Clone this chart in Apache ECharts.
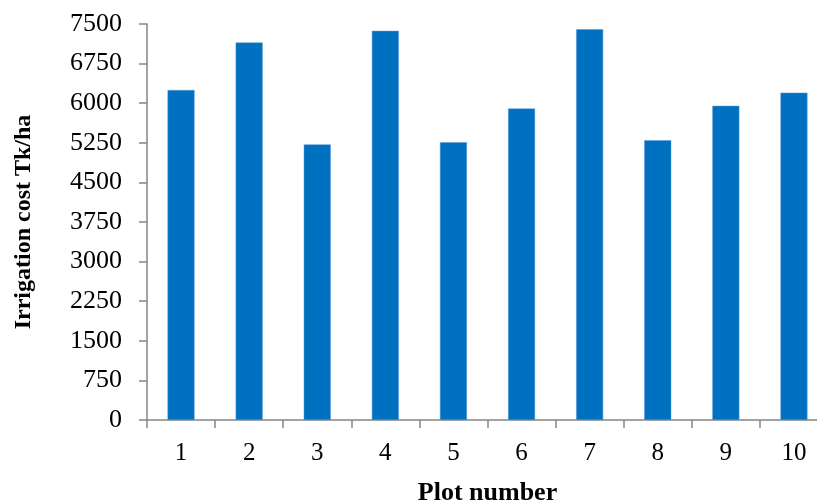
<!DOCTYPE html>
<html>
<head>
<meta charset="utf-8">
<script src="https://cdn.jsdelivr.net/npm/echarts@6/dist/echarts.min.js"></script>
<style>
html,body{margin:0;padding:0;background:#fff;}
#chart{width:817px;height:503px;}
</style>
</head>
<body>
<div id="chart"></div>
<script>
const categories = ['1','2','3','4','5','6','7','8','9','10'];
const irrigationCost = [6250, 7150, 5220, 7370, 5260, 5900, 7400, 5300, 5950, 6200];
const yTicks = {min: 0, max: 7500, interval: 750};

const chart = echarts.init(document.getElementById('chart'), null, {renderer: 'canvas'});
const font = '"Liberation Serif", "Times New Roman", serif';
chart.setOption({
  animation: false,
  backgroundColor: '#ffffff',
  grid: {left: 147, top: 24, width: 681, height: 396, containLabel: false, outerBoundsMode: 'none'},
  xAxis: {
    type: 'category',
    data: categories,
    name: 'Plot number',
    nameLocation: 'middle',
    nameGap: 60,
    nameTextStyle: {fontFamily: font, fontWeight: 'bold', fontSize: 26, color: '#000'},
    axisLine: {lineStyle: {color: '#868686', width: 1.5}},
    axisTick: {show: true, alignWithLabel: false, length: 8, lineStyle: {color: '#868686', width: 1.5}},
    axisLabel: {fontFamily: font, fontSize: 25, color: '#000', margin: 21},
    splitLine: {show: false}
  },
  yAxis: {
    type: 'value',
    min: yTicks.min,
    max: yTicks.max,
    interval: yTicks.interval,
    name: 'Irrigation cost Tk/ha',
    nameLocation: 'middle',
    nameGap: 111,
    nameTextStyle: {fontFamily: font, fontWeight: 'bold', fontSize: 24, color: '#000'},
    axisLine: {show: true, lineStyle: {color: '#868686', width: 1.5}},
    axisTick: {show: true, length: 8, lineStyle: {color: '#868686', width: 1.5}},
    axisLabel: {fontFamily: font, fontSize: 26, color: '#000', margin: 25, formatter: function (v) { return String(v); }},
    splitLine: {show: false}
  },
  series: [{
    type: 'bar',
    data: irrigationCost,
    barWidth: 27,
    itemStyle: {color: '#0070C0', borderColor: '#5B9BD5', borderWidth: 0.5}
  }]
});
</script>
</body>
</html>
